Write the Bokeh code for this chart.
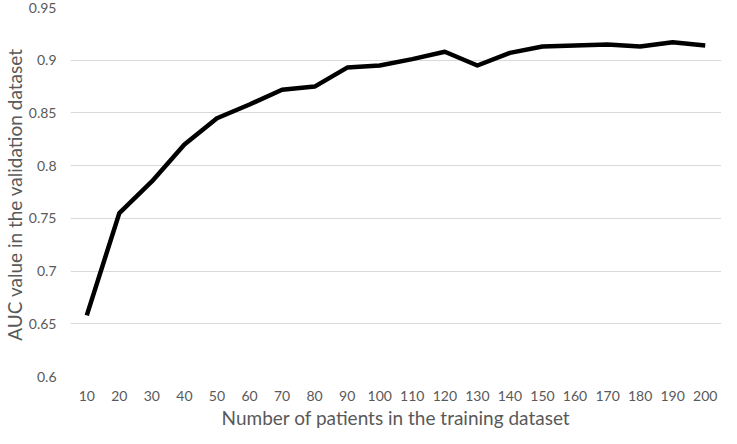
from bokeh.plotting import figure
from bokeh.models import FactorRange, Range1d, FixedTicker, CustomJSTickFormatter, Title
from bokeh.embed import file_html
from bokeh.resources import INLINE

patients = ["10", "20", "30", "40", "50", "60", "70", "80", "90", "100",
            "110", "120", "130", "140", "150", "160", "170", "180", "190", "200"]
auc = [0.658, 0.755, 0.785, 0.820, 0.845, 0.858, 0.872, 0.875, 0.893, 0.895,
       0.901, 0.908, 0.895, 0.907, 0.913, 0.914, 0.915, 0.913, 0.917, 0.914]
y_ticks = [0.6, 0.65, 0.7, 0.75, 0.8, 0.85, 0.9, 0.95]
x_title = "Number of patients in the training dataset"
y_title = "AUC value  in the validation dataset"

FONT = "Lato"
GREY = "#595959"

p = figure(width=721, height=428, output_backend="svg", toolbar_location=None,
           x_range=FactorRange(factors=patients), y_range=Range1d(0.6, 0.95),
           min_border_left=0, min_border_right=0, min_border_top=7, min_border_bottom=0)

p.line(patients, auc, line_color="black", line_width=4.5, line_join="round")

p.outline_line_color = None
p.xgrid.grid_line_color = None
p.ygrid.grid_line_color = "#d9d9d9"
p.ygrid.grid_line_width = 1

p.yaxis.ticker = FixedTicker(ticks=y_ticks)
p.yaxis.formatter = CustomJSTickFormatter(code="return parseFloat(tick.toFixed(2)).toString();")

for ax in (p.xaxis, p.yaxis):
    ax.axis_line_color = None
    ax.major_tick_line_color = None
    ax.minor_tick_line_color = None
    ax.major_tick_in = 0
    ax.major_tick_out = 0
    ax.minor_tick_in = 0
    ax.minor_tick_out = 0
    ax.major_label_text_font = FONT
    ax.major_label_text_font_size = "14px"
    ax.major_label_text_color = GREY

p.xaxis.major_label_standoff = 14
p.yaxis.major_label_standoff = 14

p.add_layout(Title(text=x_title, align="center", text_font=FONT, text_font_size="19px",
                   text_font_style="normal", text_color=GREY, standoff=0, offset=0), "below")
p.add_layout(Title(text=y_title, align="center", text_font=FONT, text_font_size="19px",
                   text_font_style="normal", text_color=GREY, standoff=0, offset=0), "left")

open("out.html", "w").write(file_html(p, INLINE))
